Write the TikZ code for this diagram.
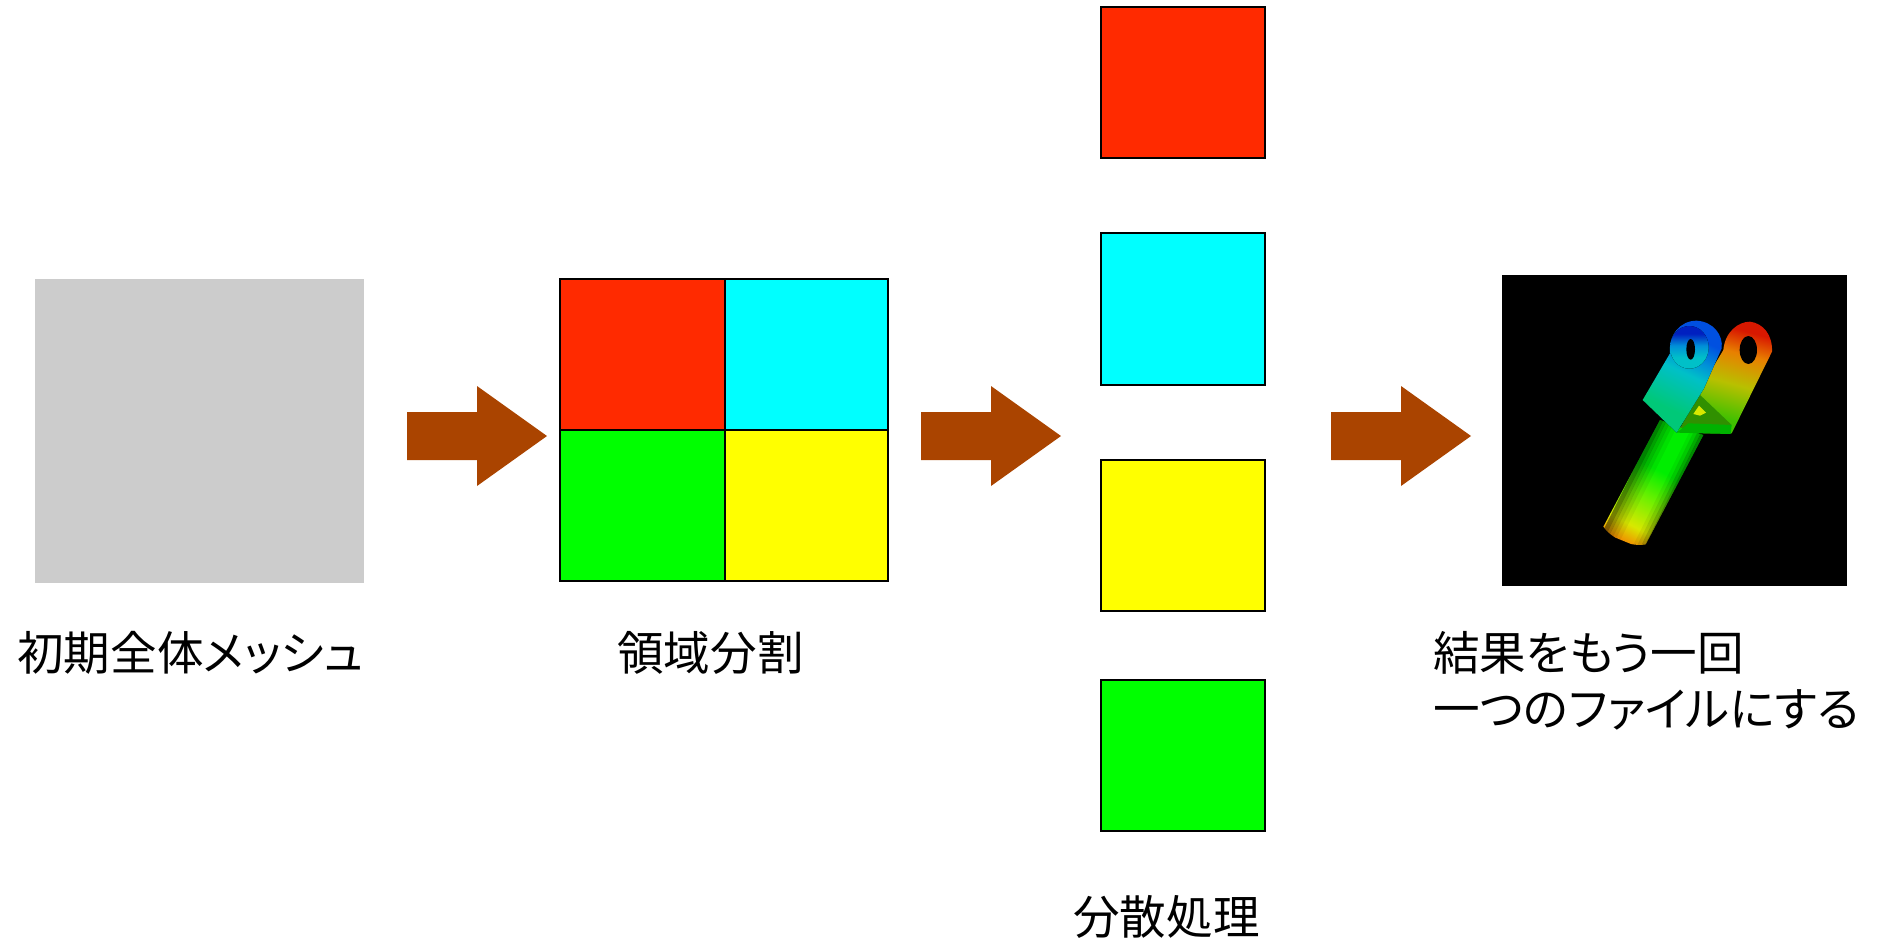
\documentclass[tikz,border=0pt]{standalone}
\usepackage{fontspec}
\setmainfont[RawFeature=+palt]{Noto Sans CJK JP}
\usepackage{tikz}
\usetikzlibrary{calc}
\definecolor{Partred}{HTML}{FF2A00}
\definecolor{Partcyan}{HTML}{00FFFF}
\definecolor{Partgreen}{HTML}{00FF00}
\definecolor{Partyellow}{HTML}{FFFF00}
\definecolor{Arrowbrown}{HTML}{AA4400}
\definecolor{Meshgray}{HTML}{CCCCCC}
\definecolor{Meshorange}{HTML}{F09000}
\definecolor{Meshyellow}{HTML}{D8E800}
\definecolor{Meshlime}{HTML}{70F000}
\definecolor{Meshgreen}{HTML}{00EE00}
\definecolor{Meshteal}{HTML}{00C878}
\definecolor{Meshaqua}{HTML}{00C0C8}
\definecolor{Meshsky}{HTML}{0090D8}
\definecolor{Meshblue}{HTML}{0050E0}
\definecolor{Meshdeep}{HTML}{0020C0}
\definecolor{Meshleaf}{HTML}{40C000}
\definecolor{Mesholive}{HTML}{B8C000}
\definecolor{Meshamber}{HTML}{E88000}
\definecolor{Meshred}{HTML}{D81800}
\tikzstyle{part} = [
    draw=black,
    line width=1.1pt
]
\tikzstyle{caption} = [
    anchor=west,
    inner sep=0pt,
    align=left,
    font=\fontsize{26.5}{31.8}\selectfont
]
\pgfdeclareverticalshading{shaftshade}{100bp}{
    color(0bp)=(Meshorange);
    color(24bp)=(Meshorange);
    color(31bp)=(Meshyellow);
    color(43bp)=(Meshlime);
    color(55bp)=(Meshgreen);
    color(100bp)=(Meshgreen)
}
\pgfdeclareverticalshading{leftarmshade}{100bp}{
    color(0bp)=(Meshteal);
    color(33bp)=(Meshteal);
    color(52bp)=(Meshaqua);
    color(60bp)=(Meshsky);
    color(70bp)=(Meshblue);
    color(100bp)=(Meshblue)
}
\pgfdeclareverticalshading{rightarmshade}{100bp}{
    color(0bp)=(Meshleaf);
    color(30bp)=(Meshleaf);
    color(47bp)=(Mesholive);
    color(62bp)=(Meshamber);
    color(73bp)=(Meshred);
    color(100bp)=(Meshred)
}
\pgfdeclareverticalshading{tubeshade}{100bp}{
    color(0bp)=(Meshaqua);
    color(38bp)=(Meshaqua);
    color(52bp)=(Meshsky);
    color(66bp)=(Meshdeep);
    color(100bp)=(Meshdeep)
}
\begin{document}
\begin{tikzpicture}[x=0.02cm,y=-0.02cm]
    \useasboundingbox (0,0) rectangle (1885,944);
    % Whole mesh
    \fill[Meshgray] (35,279) rectangle (364,583);
    % Split mesh
    \draw[part,fill=Partred] (560,279) rectangle (725,430);
    \draw[part,fill=Partcyan] (725,279) rectangle (888,430);
    \draw[part,fill=Partgreen] (560,430) rectangle (725,581);
    \draw[part,fill=Partyellow] (725,430) rectangle (888,581);
    % Separate parts
    \draw[part,fill=Partred] (1101,7) rectangle (1265,158);
    \draw[part,fill=Partcyan] (1101,233) rectangle (1265,385);
    \draw[part,fill=Partyellow] (1101,460) rectangle (1265,611);
    \draw[part,fill=Partgreen] (1101,680) rectangle (1265,831);
    % Block arrows
    \foreach \x in {407,921,1331}{
        \fill[Arrowbrown] (\x,412) -- ++(70,0) -- ++(0,-26) -- ++(70,50) -- ++(-70,50) -- ++(0,-26) -- ++(-70,0) -- cycle;
    }
    % Result picture
    \fill[black] (1502,275) rectangle (1847,586);
    \begin{scope}[shift={(1480,260)},x=0.00667cm,y=-0.00667cm]
        % Shaft
        \coordinate (shafttl) at (540,480);
        \coordinate (shafttr) at (670,525);
        \coordinate (shaftbl) at (370,800);
        \coordinate (shaftbr) at (497,853);
        \begin{scope}
            \clip (shafttl) -- (shafttr) -- (shaftbr) .. controls (450,862) and (395,835) .. (shaftbl) -- cycle;
            \fill[shading=shaftshade,shading angle=-27.6] (520,460) -- (690,530) -- (497,870) -- (350,810) -- cycle;
            \foreach \a/\b/\o in {-0.03/0.07/0.45,0.07/0.14/0.32,0.14/0.22/0.22,0.22/0.3/0.14,0.3/0.4/0.06,0.7/0.78/0.06,0.78/0.86/0.15,0.86/0.93/0.28,0.93/1.03/0.42}{
                \fill[black,fill opacity=\o] ($(shafttl)!\a!(shafttr)$) -- ($(shafttl)!\b!(shafttr)$) -- ($(shaftbl)!\b!(shaftbr)+(0,20)$) -- ($(shaftbl)!\a!(shaftbr)+(0,20)$) -- cycle;
            }
        \end{scope}
        % Right arm
        \fill[shading=rightarmshade,shading angle=-15] (640,420) -- (730,270) .. controls (735,215) and (775,185) .. (810,185) .. controls (850,190) and (878,225) .. (876,275) -- (755,520) -- (670,520) -- cycle;
        \fill[black] (805,270) ellipse (26 and 42);
        % Gap under the arms
        \fill[Meshleaf!75!black] (600,505) -- (655,400) -- (755,495) -- cycle;
        \fill[Meshyellow] (640,462) -- (657,437) -- (678,458) -- (660,467) -- cycle;
        \fill[Meshgreen!75!black] (590,518) -- (625,490) -- (755,495) -- (752,522) -- cycle;
        % Left arm
        \fill[shading=leftarmshade,shading angle=-25] (488,420) -- (570,280) .. controls (565,225) and (600,182) .. (650,182) .. controls (700,185) and (730,225) .. (725,265) -- (672,385) -- (590,518) -- cycle;
        % Ring of the left arm
        \fill[shading=tubeshade] (628,262) ellipse (58 and 64);
        \fill[black] (632,268) ellipse (13 and 31);
    \end{scope}
    % Captions
    \node[caption] (wholelabel) at (17,653) {初期全体メッシュ};
    \node[caption] (splitlabel) at (617,653) {領域分割};
    \node[caption] (partlabel) at (1073,917) {分散処理};
    \node[caption] (resultlabel) at (1433,681) {結果をもう一回\\一つのファイルにする};
\end{tikzpicture}
\end{document}
